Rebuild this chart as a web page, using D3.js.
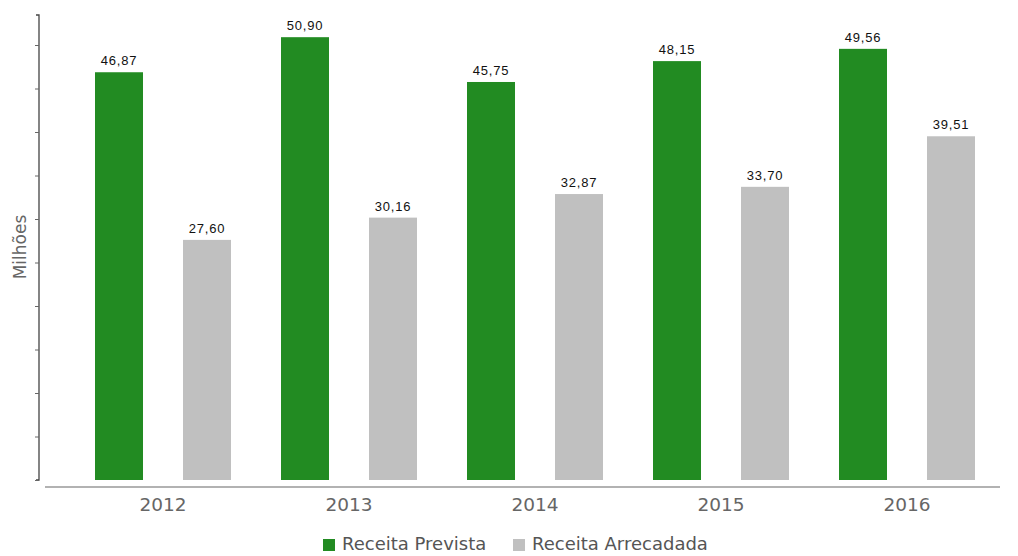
<!DOCTYPE html>
<html>
<head>
<meta charset="utf-8">
<script src="https://cdn.jsdelivr.net/npm/d3@7"></script>
<style>
  html, body { margin: 0; padding: 0; background: #fff; }
  svg { display: block; }
</style>
</head>
<body>
<svg id="chart" width="1018" height="556"></svg>
<script>
// Receita prevista x arrecadada, em milhões
const years = ["2012", "2013", "2014", "2015", "2016"];
const receitaPrevista = [46.87, 50.90, 45.75, 48.15, 49.56];
const receitaArrecadada = [27.60, 30.16, 32.87, 33.70, 39.51];
const seriesNames = ["Receita Prevista", "Receita Arrecadada"];
const seriesColors = ["#228b22", "#c0c0c0"];
const yTicks = [0, 5, 10, 15, 20, 25, 30, 35, 40, 45, 50];

const svg = d3.select("#chart");
const fmt = v => v.toFixed(2).replace(".", ",");

const plotTop = 15, plotBottom = 480, plotLeft = 70, plotRight = 1000;

const y = d3.scaleLinear().domain([0, 53.45]).range([plotBottom, plotTop]);
const x = d3.scaleBand().domain(years).range([plotLeft, plotRight]);
const inner = d3.scaleBand().domain(seriesNames).range([-68, 68]).paddingInner(0.4545).paddingOuter(0);

// y axis: line with small ticks, no labels
const yAxis = d3.axisLeft(y).tickValues(yTicks).tickSize(4).tickFormat("");
const gy = svg.append("g").attr("transform", "translate(39,0)").call(yAxis);
gy.select(".domain").attr("stroke", "#444").attr("stroke-width", 1.3).attr("d", `M-3,${plotTop}H0V${plotBottom}H-3`);
gy.selectAll(".tick line").attr("stroke", "#666");

// x axis baseline
const xAxis = d3.axisBottom(x).tickSize(0);
const gx = svg.append("g").attr("transform", "translate(0,487)").call(xAxis);
gx.select(".domain").attr("stroke", "#666").attr("stroke-width", 1.2).attr("d", "M45,0H1000");
gx.selectAll(".tick text")
  .attr("y", 24)
  .attr("dy", 0)
  .attr("font-family", "'DejaVu Sans', sans-serif")
  .attr("font-size", 18.5)
  .attr("fill", "#666");

// y title
svg.append("text")
  .attr("transform", "translate(26,247) rotate(-90)")
  .attr("text-anchor", "middle")
  .attr("font-family", "'DejaVu Sans', sans-serif")
  .attr("font-size", 17)
  .attr("fill", "#666")
  .text("Milhões");

const data = years.map((yr, i) => ({
  year: yr,
  values: [
    { name: seriesNames[0], value: receitaPrevista[i], color: seriesColors[0] },
    { name: seriesNames[1], value: receitaArrecadada[i], color: seriesColors[1] }
  ]
}));

const groups = svg.append("g").selectAll("g")
  .data(data).join("g")
  .attr("transform", d => `translate(${x(d.year) + x.bandwidth() / 2},0)`);

groups.selectAll("rect")
  .data(d => d.values).join("rect")
  .attr("x", d => inner(d.name))
  .attr("width", inner.bandwidth())
  .attr("y", d => y(d.value))
  .attr("height", d => y(0) - y(d.value))
  .attr("fill", d => d.color);

groups.selectAll("text.val")
  .data(d => d.values).join("text")
  .attr("class", "val")
  .attr("x", d => inner(d.name) + inner.bandwidth() / 2)
  .attr("y", d => y(d.value) - 7)
  .attr("text-anchor", "middle")
  .attr("font-family", "'Liberation Sans', Arial, sans-serif")
  .attr("font-size", 13)
  .attr("letter-spacing", 0.8)
  .attr("fill", "#111")
  .text(d => fmt(d.value));

// legend
const legend = svg.append("g").attr("transform", "translate(323,550)");
const items = [
  { name: seriesNames[0], color: seriesColors[0], x: 0 },
  { name: seriesNames[1], color: seriesColors[1], x: 190 }
];
const li = legend.selectAll("g").data(items).join("g")
  .attr("transform", d => `translate(${d.x},0)`);
li.append("rect").attr("x", 0).attr("y", -11).attr("width", 12).attr("height", 12).attr("fill", d => d.color);
li.append("text")
  .attr("x", 19).attr("y", 0)
  .attr("font-family", "'DejaVu Sans', sans-serif")
  .attr("font-size", 18)
  .attr("fill", "#555")
  .text(d => d.name);
</script>
</body>
</html>
